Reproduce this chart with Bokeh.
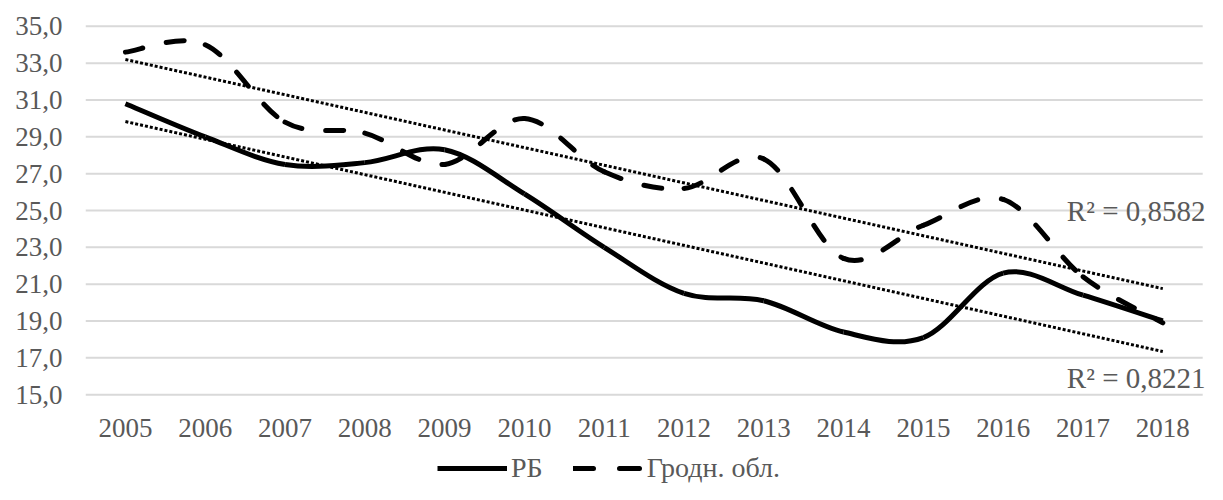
import numpy as np

from bokeh.plotting import figure
from bokeh.layouts import column
from bokeh.models import FixedTicker, Legend, LegendItem, Label, Range1d
from bokeh.embed import file_html
from bokeh.resources import INLINE

years = [2005, 2006, 2007, 2008, 2009, 2010, 2011, 2012, 2013, 2014, 2015, 2016, 2017, 2018]
rb = [30.8, 29.0, 27.5, 27.6, 28.3, 25.9, 23.0, 20.5, 20.1, 18.4, 18.1, 21.6, 20.4, 19.0]
grodno = [33.6, 34.0, 29.8, 29.2, 27.5, 30.0, 27.1, 26.2, 27.8, 22.4, 24.2, 25.6, 21.4, 18.9]

y_ticks = [15, 17, 19, 21, 23, 25, 27, 29, 31, 33, 35]
y_tick_labels = ["15,0", "17,0", "19,0", "21,0", "23,0", "25,0", "27,0", "29,0", "31,0", "33,0", "35,0"]
year_labels = [str(y) for y in years]

series_names = ["РБ", "Гродн. обл."]
r2_texts = ["R² = 0,8221", "R² = 0,8582"]

FONT = "Liberation Serif"
GREY = "#595959"


def smooth_segments(xs, ys):
    # Excel-style smoothed line: one cubic bezier per pair of points
    x = np.asarray(xs, dtype=float)
    y = np.asarray(ys, dtype=float)
    n = len(x)
    xp = np.concatenate([[x[0]], x, [x[-1]]])
    yp = np.concatenate([[y[0]], y, [y[-1]]])
    return dict(
        x0=x[:-1], y0=y[:-1], x1=x[1:], y1=y[1:],
        cx0=x[:-1] + (xp[2:n + 1] - xp[0:n - 1]) / 6,
        cy0=y[:-1] + (yp[2:n + 1] - yp[0:n - 1]) / 6,
        cx1=x[1:] - (xp[3:n + 2] - xp[1:n]) / 6,
        cy1=y[1:] - (yp[3:n + 2] - yp[1:n]) / 6,
    )


lo, hi = years[0] - 0.5, years[-1] + 0.5

p = figure(width=1207, height=452, output_backend="svg", toolbar_location=None,
           x_range=Range1d(lo, 2018.56), y_range=Range1d(14.9, 35.1),
           min_border_left=85, min_border_right=0, min_border_top=24, min_border_bottom=56)
p.outline_line_color = None
p.xgrid.grid_line_color = None
p.ygrid.grid_line_color = None

p.yaxis.ticker = FixedTicker(ticks=y_ticks)
p.yaxis.major_label_overrides = dict(zip(y_ticks, y_tick_labels))
p.xaxis.ticker = FixedTicker(ticks=years)
p.xaxis.major_label_overrides = dict(zip(years, year_labels))
for ax in (p.xaxis, p.yaxis):
    ax.axis_line_color = None
    ax.major_tick_line_color = None
    ax.minor_tick_line_color = None
    ax.major_tick_out = 0
    ax.major_tick_in = 0
    ax.major_label_text_font = FONT
    ax.major_label_text_font_size = "27px"
    ax.major_label_text_color = GREY
p.yaxis.major_label_standoff = 23
p.xaxis.major_label_standoff = 22

# horizontal gridlines, only across the category area
p.segment(x0=[lo] * len(y_ticks), x1=[hi] * len(y_ticks), y0=y_ticks, y1=y_ticks,
          line_color="#d9d9d9", line_width=2)

# linear trend lines (dotted)
for vals in (rb, grodno):
    k, b = np.polyfit(years, vals, 1)
    ends = [years[0], years[-1]]
    p.line(ends, [k * e + b for e in ends], line_color="black", line_width=3, line_dash="3 2")

# smoothed series
p.bezier(**smooth_segments(years, rb), line_color="black", line_width=5)
p.bezier(**smooth_segments(years, grodno), line_color="black", line_width=5,
         line_dash="18 24", line_cap="round")

for txt, yv in zip(r2_texts, [15.88, 24.98]):
    p.add_layout(Label(x=2018.535, y=yv, text=txt, text_align="right", text_baseline="middle",
                       text_font=FONT, text_font_size="29px", text_color=GREY))

# legend strip under the chart (its frame lines up with the chart's frame)
leg = figure(width=1207, height=32, output_backend="svg", toolbar_location=None,
             x_axis_type=None, y_axis_type=None, x_range=Range1d(0, 1), y_range=Range1d(0, 1),
             min_border=0)
leg.outline_line_color = None
leg.xgrid.grid_line_color = None
leg.ygrid.grid_line_color = None
# sample renderers kept outside the visible range, only their legend glyphs show
r_rb = leg.line([2, 3], [2, 3], line_color="black", line_width=5)
r_gr = leg.line([2, 3], [2, 3], line_color="black", line_width=5, line_dash="20 26", line_cap="round")
legend = Legend(items=[LegendItem(label=series_names[0], renderers=[r_rb]),
                       LegendItem(label=series_names[1], renderers=[r_gr])],
                orientation="horizontal", location=(352, 0),
                glyph_width=70, glyph_height=20, label_standoff=4, spacing=30,
                padding=0, margin=0, border_line_color=None, background_fill_alpha=0,
                label_text_font=FONT, label_text_font_size="28px", label_text_color=GREY)
leg.add_layout(legend)

open("out.html", "w").write(file_html(column(p, leg, spacing=0), INLINE))
